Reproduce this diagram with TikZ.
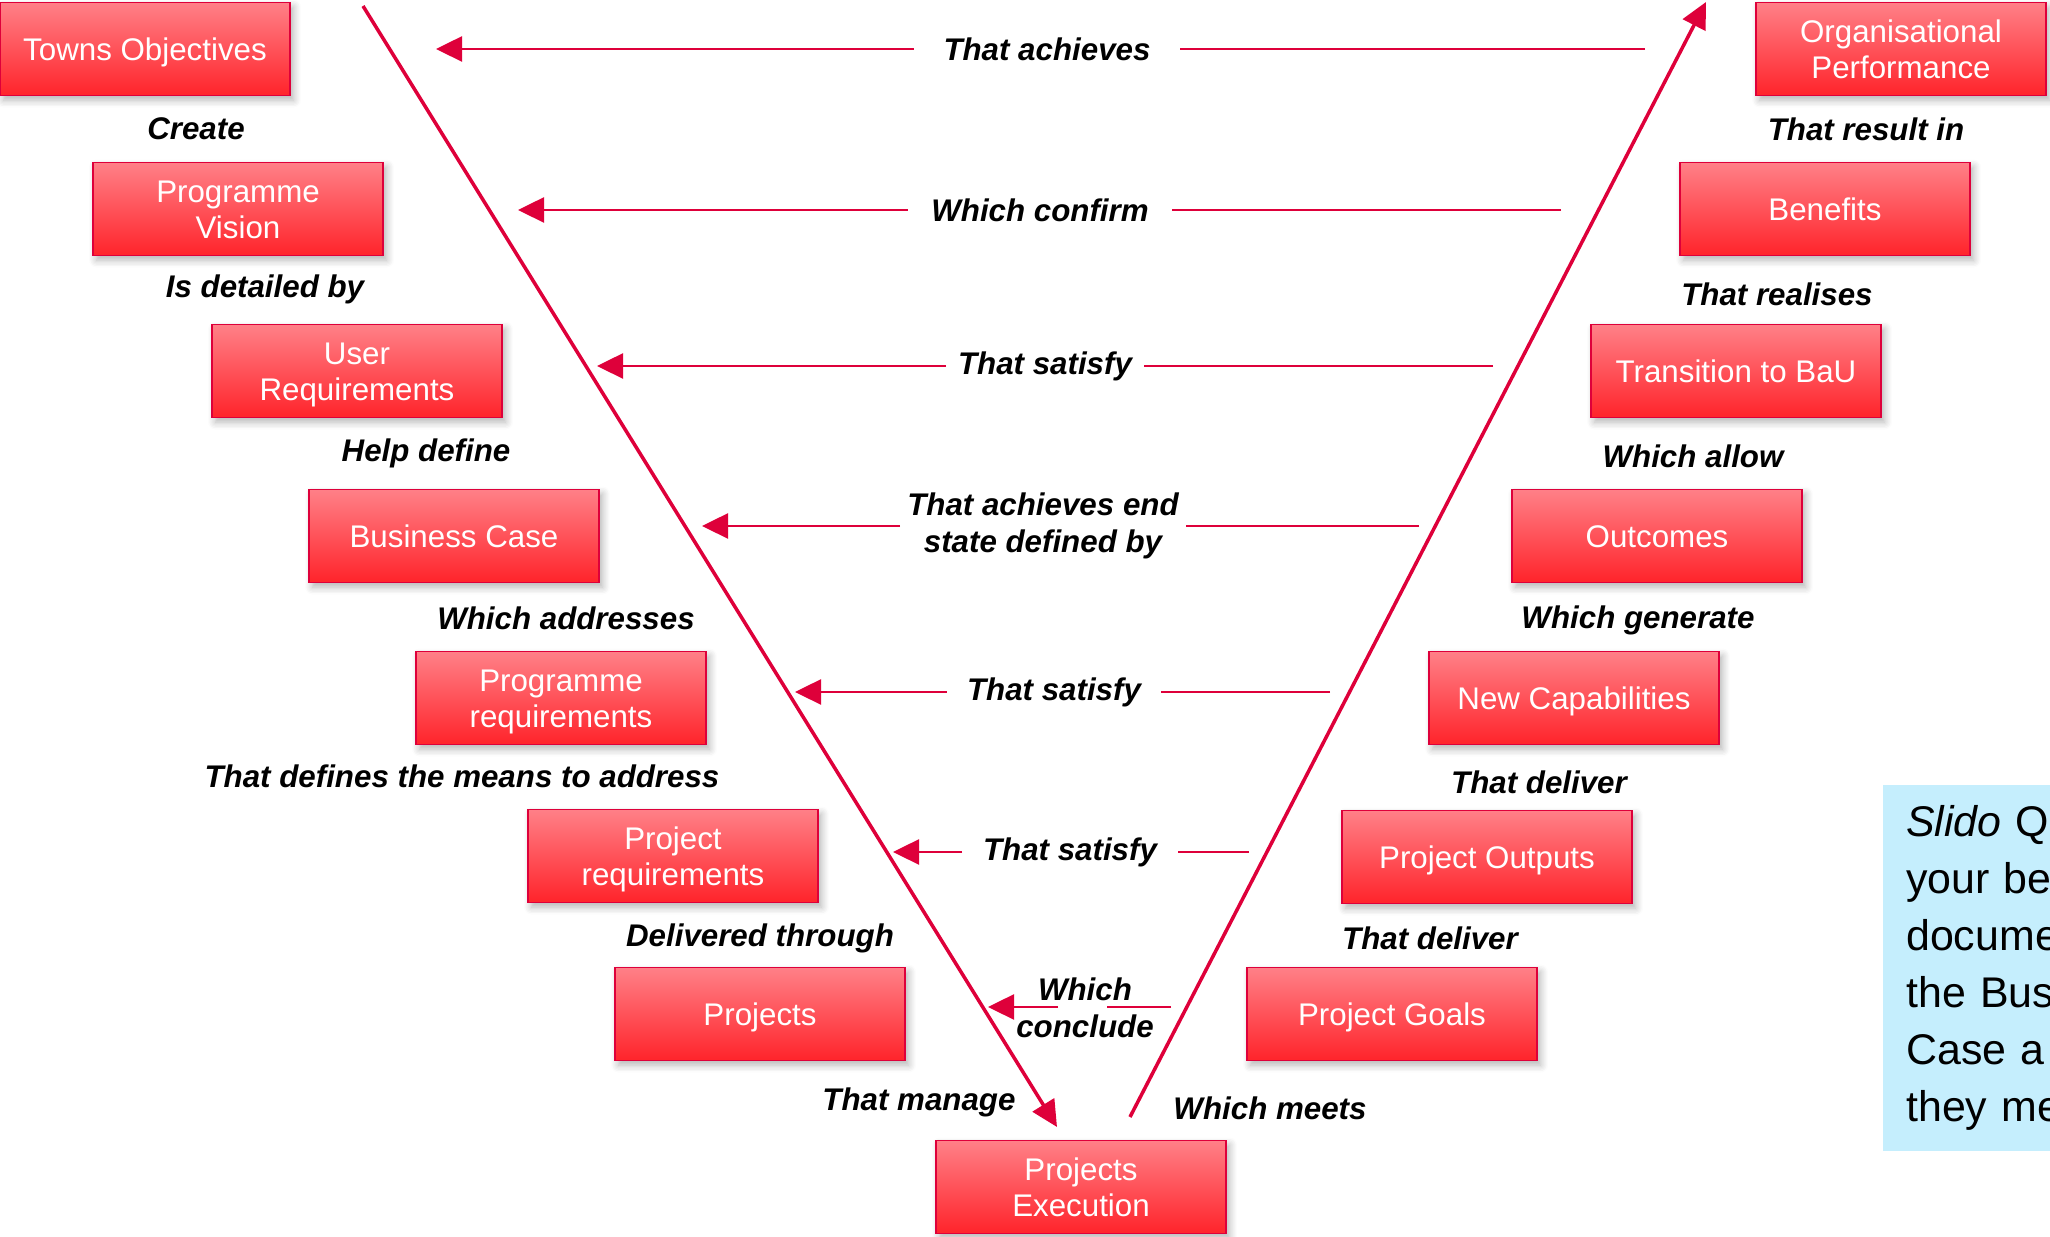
\documentclass[tikz,border=0pt]{standalone}
\usepackage{fontspec}
\setmainfont{Liberation Sans}
\usepackage{tikz}
\usetikzlibrary{arrows.meta,shadows.blur}
\definecolor{vred}{RGB}{222,0,58}
\definecolor{boxtop}{RGB}{255,128,136}
\definecolor{boxbot}{RGB}{255,36,42}
\definecolor{slidoblue}{RGB}{197,238,253}
% box text, set a little lower than the middle
\newcommand{\boxlines}[1]{\raisebox{-1.2pt}[\height][\depth]{\begin{tabular}{@{}c@{}}#1\end{tabular}}}

\begin{document}
\begin{tikzpicture}[x=0.01cm,y=-0.01cm,>={Triangle[length=0.26cm,width=0.25cm]},line width=0.7pt]
  \tikzstyle{box}=[rectangle,draw=vred,line width=0.45pt,top color=boxtop,bottom color=boxbot,
    minimum width=2.9cm,minimum height=0.93cm,inner sep=0pt,align=center,text=white,
    font=\fontsize{8.9}{10.3}\selectfont,
    blur shadow={shadow xshift=1pt,shadow yshift=-1.3pt,shadow blur steps=6,shadow opacity=30}]
  \tikzstyle{verb}=[inner sep=0pt,align=center,text=black,font=\fontsize{8.9}{10.6}\selectfont\bfseries\itshape]
  \tikzstyle{link}=[draw=vred,line width=0.7pt]
  \tikzstyle{vee}=[draw=vred,line width=1pt]

  \useasboundingbox (0,0) rectangle (2050,1237);

  % left side of the V
  \node[box] (obj)     at (145,49)   {\boxlines{Towns Objectives}};
  \node[box] (vis)     at (238,209)  {\boxlines{Programme\\Vision}};
  \node[box] (ureq)    at (357,371)  {\boxlines{User\\Requirements}};
  \node[box] (bcase)   at (454,536)  {\boxlines{Business Case}};
  \node[box] (preq)    at (561,698)  {\boxlines{Programme\\requirements}};
  \node[box] (projreq) at (673,856)  {\boxlines{Project\\requirements}};
  \node[box] (projs)   at (760,1014) {\boxlines{Projects}};
  \node[box] (exec)    at (1081,1187) {\boxlines{Projects\\Execution}};

  % right side of the V
  \node[box] (perf)  at (1901,49)   {\boxlines{Organisational\\Performance}};
  \node[box] (ben)   at (1825,209)  {\boxlines{Benefits}};
  \node[box] (bau)   at (1736,371)  {\boxlines{Transition to BaU}};
  \node[box] (outc)  at (1657,536)  {\boxlines{Outcomes}};
  \node[box] (caps)  at (1574,698)  {\boxlines{New Capabilities}};
  \node[box] (outp)  at (1487,857)  {\boxlines{Project Outputs}};
  \node[box] (goals) at (1392,1014) {\boxlines{Project Goals}};

  % verbs between the boxes
  \node[verb] (v1)  at (196,129)  {Create};
  \node[verb] (v2)  at (265,289)  {Is detailed by};
  \node[verb] (v3)  at (426,453)  {Help define};
  \node[verb] (v4)  at (566,618)  {Which addresses};
  \node[verb] (v5)  at (462,776)  {That defines the means to address};
  \node[verb] (v6)  at (760,938)  {Delivered through};
  \node[verb] (v7)  at (919,1102) {That manage};
  \node[verb] (w7)  at (1270,1108) {Which meets};
  \node[verb] (w6)  at (1430,938) {That deliver};
  \node[verb] (w5)  at (1539,782) {That deliver};
  \node[verb] (w4)  at (1638,620) {Which generate};
  \node[verb] (w3)  at (1693,456) {Which allow};
  \node[verb] (w2)  at (1777,294) {That realises};
  \node[verb] (w1)  at (1866,129) {That result in};

  % the V itself
  \coordinate (ltop) at (363,6);
  \coordinate (lbot) at (1057,1127);
  \coordinate (rbot) at (1130,1117);
  \coordinate (rtop) at (1706,2);
  \draw[vee,->] (ltop) -- (lbot);
  \draw[vee,->] (rbot) -- (rtop);

  % links across the V
  \node[verb,minimum width=2.64cm] (m1) at (1047,49)  {That achieves};
  \node[verb,minimum width=2.62cm] (m2) at (1040,210) {Which confirm};
  \node[verb,minimum width=1.95cm] (m3) at (1045,366) {That satisfy};
  \node[verb,minimum width=2.83cm] (m4) at (1043,526) {That achieves end\\state defined by};
  \node[verb,minimum width=2.12cm] (m5) at (1054,692) {That satisfy};
  \node[verb,minimum width=2.13cm] (m6) at (1070,852) {That satisfy};
  \node[verb] (m7) at (1085,1008) {Which\\conclude};

  \coordinate (e1) at (1645,49);  \coordinate (a1) at (436,49);
  \coordinate (e2) at (1561,210); \coordinate (a2) at (518,210);
  \coordinate (e3) at (1493,366); \coordinate (a3) at (597,366);
  \coordinate (e4) at (1419,526); \coordinate (a4) at (702,526);
  \coordinate (e5) at (1330,692); \coordinate (a5) at (795,692);
  \coordinate (e6) at (1249,852); \coordinate (a6) at (893,852);
  \coordinate (e7) at (1171,1007); \coordinate (a7) at (988,1007);
  \coordinate (g7r) at (1107,1007); \coordinate (g7l) at (1058,1007);

  \foreach \i in {1,...,6}{
    \draw[link] (e\i) -- (m\i.east);
    \draw[link,->] (m\i.west) -- (a\i);
  }
  \draw[link] (e7) -- (g7r);
  \draw[link,->] (g7l) -- (a7);

  % question box, cut by the page edge
  \node[anchor=north west,fill=slidoblue,minimum width=3cm,minimum height=3.66cm,
    text width=2.6cm,inner xsep=0.23cm,inner ysep=0pt,align=left,
    font=\fontsize{12.2}{16.2}\selectfont] (slido) at (1882,784)
    {\textit{Slido} Q\\your be\\docume\\the Bus\\Case a\\they me};
\end{tikzpicture}
\end{document}
